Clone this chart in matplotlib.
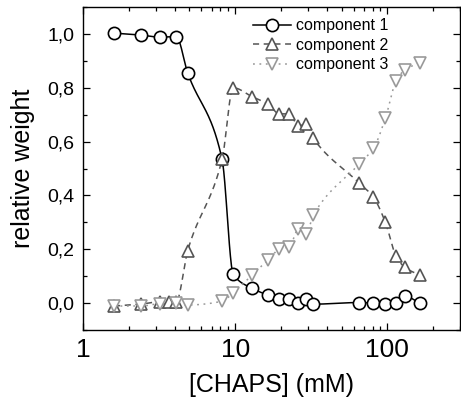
import numpy as np
import matplotlib
matplotlib.use("Agg")
import matplotlib.pyplot as plt
from matplotlib.ticker import FuncFormatter, FixedLocator, LogLocator, NullFormatter, MultipleLocator

# ---- data ----
conc = [1.6, 2.4, 3.2, 4.1, 4.87, 8.2, 9.7, 12.9, 16.4, 19.5, 22.7, 26.0, 29.2, 32.6,
        65, 81, 97, 114, 130, 163]
comp1 = [1.003, 0.996, 0.988, 0.99, 0.856, 0.534, 0.108, 0.055, 0.03, 0.017, 0.014, 0.0,
         0.017, -0.004, 0.002, 0.0, -0.004, 0.002, 0.026, 0.0]
conc2 = [1.6, 2.4, 3.2, 3.7, 4.1, 4.87, 8.2, 9.7, 12.9, 16.4, 19.5, 22.7, 26.0, 29.2, 32.6,
         65, 81, 97, 114, 130, 163]
comp2 = [-0.011, -0.004, 0.005, 0.005, 0.005, 0.194, 0.534, 0.80, 0.767, 0.739, 0.703, 0.703,
         0.658, 0.665, 0.612, 0.447, 0.393, 0.30, 0.175, 0.133, 0.104]
comp3 = [-0.011, -0.011, -0.002, 0.0, -0.007, 0.007, 0.038, 0.104, 0.16, 0.2, 0.209, 0.274,
         0.255, 0.327, 0.516, 0.575, 0.687, 0.825, 0.866, 0.893]
labels = ["component 1", "component 2", "component 3"]
xticks = [1, 10, 100]
yticks = [0.0, 0.2, 0.4, 0.6, 0.8, 1.0]


def pchip(x, y, xn):
    x = np.asarray(x, float); y = np.asarray(y, float)
    h = np.diff(x); d = np.diff(y) / h
    n = len(x); m = np.zeros(n)
    for k in range(1, n - 1):
        if d[k - 1] * d[k] > 0:
            w1 = 2 * h[k] + h[k - 1]; w2 = h[k] + 2 * h[k - 1]
            m[k] = (w1 + w2) / (w1 / d[k - 1] + w2 / d[k])
    m[0] = d[0]; m[-1] = d[-1]
    idx = np.clip(np.searchsorted(x, xn) - 1, 0, n - 2)
    t = (xn - x[idx]) / h[idx]
    h00 = 2 * t**3 - 3 * t**2 + 1; h10 = t**3 - 2 * t**2 + t
    h01 = -2 * t**3 + 3 * t**2; h11 = t**3 - t**2
    return h00 * y[idx] + h10 * h[idx] * m[idx] + h01 * y[idx + 1] + h11 * h[idx] * m[idx + 1]


def smooth(xs, ys):
    lx = np.log10(xs)
    grid = np.linspace(lx[0], lx[-1], 600)
    return 10 ** grid, pchip(lx, ys, grid)


plt.rcParams['font.family'] = ['Liberation Sans', 'DejaVu Sans']

fig = plt.figure(figsize=(4.61, 4.04), dpi=100)
ax = fig.add_axes([83 / 461, 74 / 404, 377 / 461, 323 / 404])

c1, c2, c3 = 'black', '#555555', '#999999'

x1, y1 = smooth(conc, comp1)
x2, y2 = smooth(conc2, comp2)
x3, y3 = smooth(conc, comp3)

ax.plot(x1, y1, color=c1, lw=1.1, zorder=2)
ax.plot(x2, y2, color=c2, lw=1.1, dashes=(4, 3), zorder=2)
ax.plot(x3, y3, color=c3, lw=1.1, dashes=(1.2, 3), zorder=2)

ax.plot(conc, comp1, 'o', ms=8.8, mfc='white', mec=c1, mew=1.2, zorder=3)
ax.plot(conc2, comp2, '^', ms=9.2, mfc='white', mec=c2, mew=1.2, zorder=3)
ax.plot(conc, comp3, 'v', ms=9.2, mfc='white', mec=c3, mew=1.2, zorder=4)

# legend proxies
h1, = ax.plot([], [], color=c1, lw=1.1, marker='o', ms=8.8, mfc='white', mec=c1, mew=1.2)
h2, = ax.plot([], [], color=c2, lw=1.1, dashes=(4, 3), marker='^', ms=9.2, mfc='white', mec=c2, mew=1.2)
h3, = ax.plot([], [], color=c3, lw=1.1, dashes=(1.2, 3), marker='v', ms=9.2, mfc='white', mec=c3, mew=1.2)
ax.legend([h1, h2, h3], labels, loc='upper right', frameon=False, fontsize=11.5,
          handlelength=2.4, handletextpad=0.3, labelspacing=0.28,
          borderaxespad=0.3, bbox_to_anchor=(0.84, 1.0))

ax.set_xscale('log')
ax.set_xlim(1, 300)
ax.set_ylim(-0.1, 1.1)
ax.xaxis.set_major_locator(FixedLocator(xticks))
ax.xaxis.set_major_formatter(FuncFormatter(lambda v, p: f"{v:g}"))
ax.xaxis.set_minor_locator(LogLocator(base=10, subs=np.arange(2, 10)))
ax.xaxis.set_minor_formatter(NullFormatter())
ax.yaxis.set_major_locator(FixedLocator(yticks))
ax.yaxis.set_minor_locator(MultipleLocator(0.1))
ax.yaxis.set_major_formatter(FuncFormatter(lambda v, p: f"{v:.1f}".replace('.', ',')))

ax.tick_params(which='both', direction='in', top=True, right=True, width=0.9)
ax.tick_params(which='major', length=5)
ax.tick_params(which='minor', length=3)
ax.tick_params(axis='x', which='major', labelsize=19, pad=6)
ax.tick_params(axis='y', which='major', labelsize=14, pad=6)
for s in ax.spines.values():
    s.set_linewidth(1.0)

ax.set_xlabel('[CHAPS] (mM)', fontsize=18, labelpad=8)
ax.set_ylabel('relative weight', fontsize=18, labelpad=9)

fig.savefig('out.png', dpi=100)
